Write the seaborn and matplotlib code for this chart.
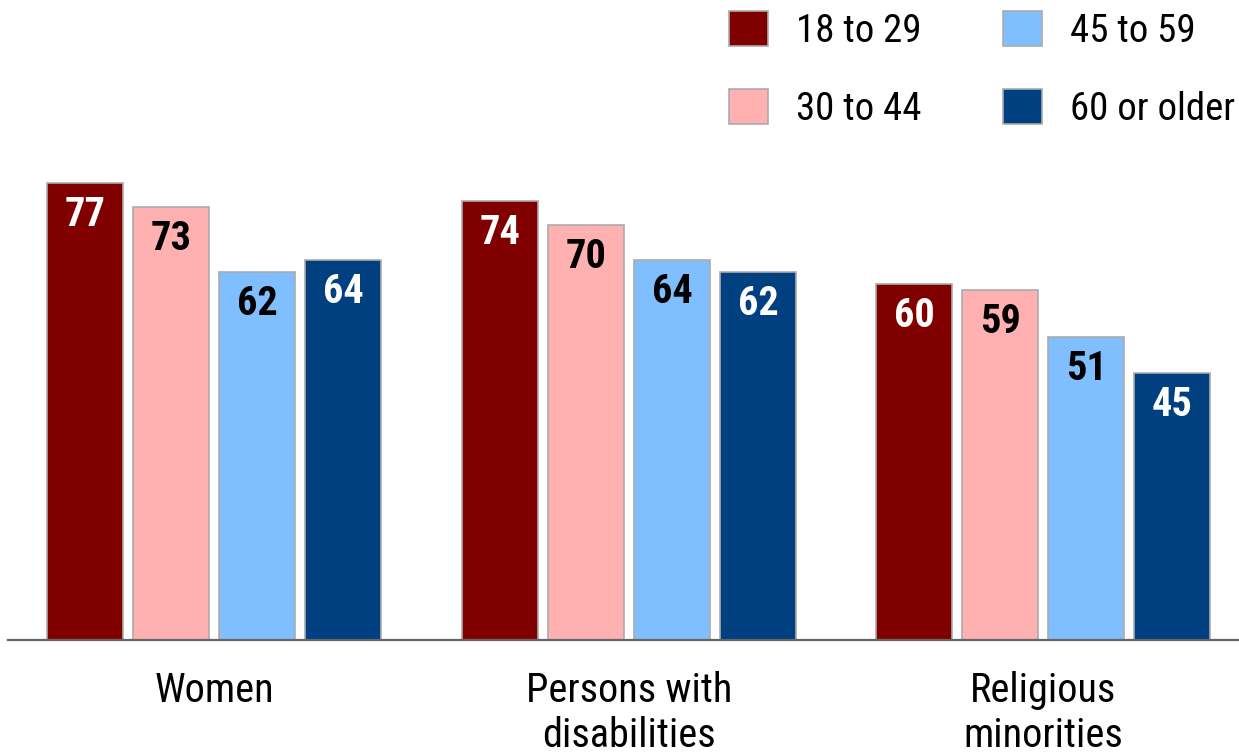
import matplotlib
matplotlib.use("Agg")
import matplotlib.pyplot as plt
import seaborn as sns
import pandas as pd

# Share of each age group, by group asked about
groups = ["Women", "Persons with\ndisabilities", "Religious\nminorities"]
age_bands = ["18 to 29", "30 to 44", "45 to 59", "60 or older"]
age_18_29 = [77, 74, 60]
age_30_44 = [73, 70, 59]
age_45_59 = [62, 64, 51]
age_60_plus = [64, 62, 45]

colors = ["#800000", "#FFB0B0", "#80BFFF", "#004080"]
label_colors = ["white", "black", "black", "white"]

sns.set_theme(style="white")
plt.rcParams["font.family"] = ["Roboto Condensed", "Fira Sans Condensed",
                               "Archivo Narrow", "DejaVu Sans"]
plt.rcParams["text.color"] = "black"
plt.rcParams["xtick.color"] = "black"

rows = []
for band, vals in zip(age_bands, [age_18_29, age_30_44, age_45_59, age_60_plus]):
    for g, v in zip(groups, vals):
        rows.append({"group": g, "age": band, "value": v})
df = pd.DataFrame(rows)

fig = plt.figure(figsize=(12.39, 7.55), dpi=100)
ax = fig.add_axes([8 / 1239, 1 - 640 / 755, 1231 / 1239, 593.5 / 755])

sns.barplot(data=df, x="group", y="value", hue="age", order=groups,
            hue_order=age_bands, palette=colors, width=0.83, gap=0.116,
            edgecolor="#ABABAB", linewidth=1.2, saturation=1, ax=ax,
            legend=False)

ax.set_ylim(0, 100)
ax.set_xlim(-0.498, 2.472)
ax.set_xlabel("")
ax.set_ylabel("")
ax.set_yticks([])
ax.tick_params(axis="x", length=0, pad=22, labelsize=29, labelcolor="black")
for s in ["top", "left", "right"]:
    ax.spines[s].set_visible(False)
ax.spines["bottom"].set_color("#666666")
ax.spines["bottom"].set_linewidth(1.6)

for container, tc in zip(ax.containers, label_colors):
    for bar in container:
        h = bar.get_height()
        ax.annotate(f"{h:.0f}", (bar.get_x() + bar.get_width() / 2, h),
                    xytext=(0, -13), textcoords="offset pixels",
                    ha="center", va="top", color=tc, fontsize=29,
                    fontweight="bold")

handles = [plt.Rectangle((0, 0), 1, 1, facecolor=c, edgecolor="#ABABAB",
                         linewidth=1.2) for c in colors]
fig.legend(handles, age_bands, loc="upper left",
           bbox_to_anchor=(729 / 1239, 1 - 11 / 755), ncol=2, frameon=False,
           fontsize=28, handlelength=1.0, handleheight=1.0,
           handletextpad=0.72, columnspacing=2.1, labelspacing=1.02,
           borderpad=0, borderaxespad=0)

fig.savefig("out.png", dpi=100)
